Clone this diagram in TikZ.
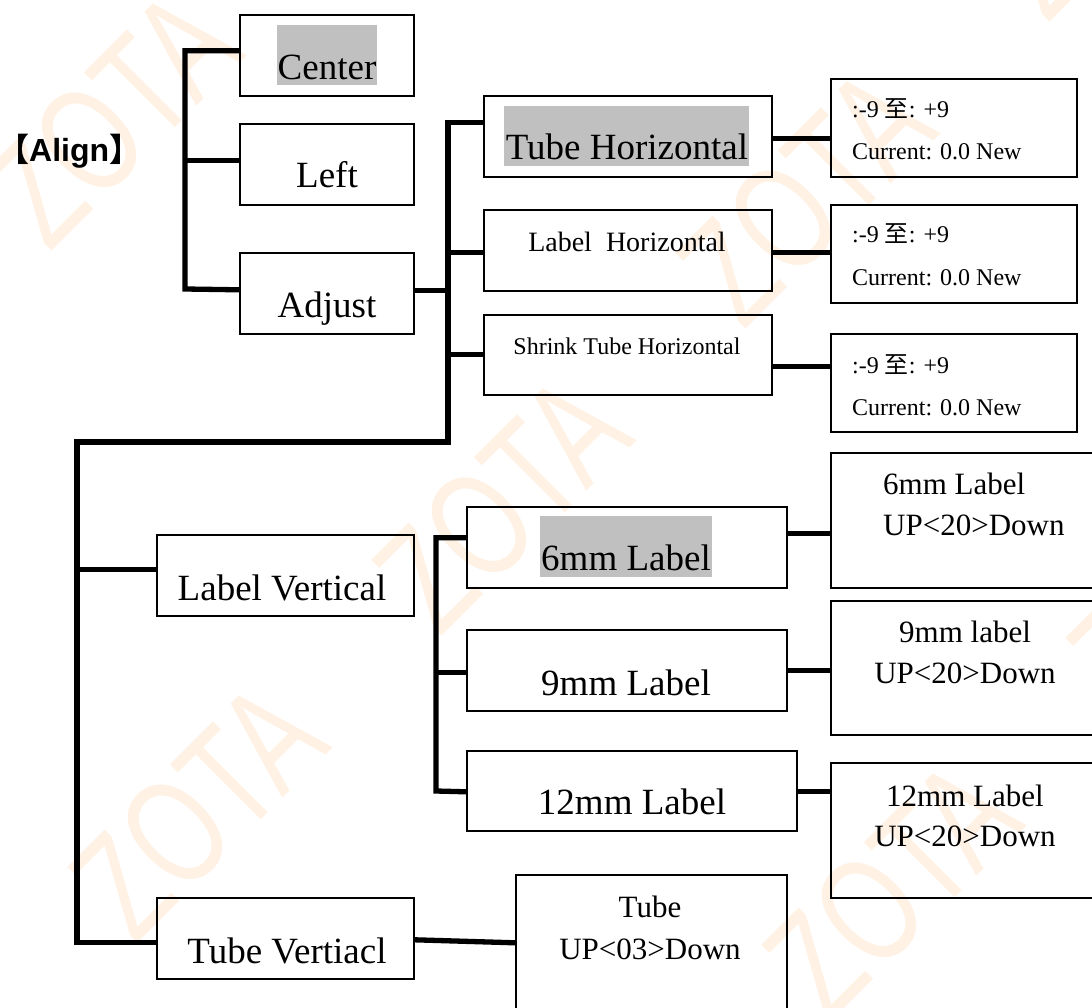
\documentclass[tikz,border=0pt]{standalone}
\usepackage{fontspec}
\setmainfont{Liberation Serif}
\newfontfamily\cjkfont{Noto Sans CJK SC}
\newfontfamily\alignfont{Liberation Sans}
\definecolor{hlgray}{RGB}{192,192,192}
\definecolor{wmark}{RGB}{255,241,228}
\begin{document}
\begin{tikzpicture}[x=1pt,y=-1pt,
  box/.style 2 args={draw=black, line width=1.6pt, inner sep=0pt, anchor=north west, minimum width=#1, minimum height=#2},
  hl/.style 2 args={fill=hlgray, inner sep=0pt, anchor=north west, minimum width=#1, minimum height=#2},
  conn/.style={line width=5.3pt, line join=miter},
  txt/.style={inner sep=0pt, anchor=base},
  ltxt/.style={inner sep=0pt, anchor=base west},
  big/.style={font=\fontsize{37}{40}\selectfont},
  midf/.style={font=\fontsize{31}{34}\selectfont},
  smlf/.style={font=\fontsize{24}{28}\selectfont},
  wm/.style={text=wmark, inner sep=0pt, font=\alignfont\fontsize{150}{150}\selectfont, rotate=45, xscale=0.72}
]
\useasboundingbox (0,0) rectangle (1092,1008);
\clip (0,0) rectangle (1092,1008);

% watermark
\foreach \i/\x/\y in {1/112/118, 2/502/503, 3/198/810, 4/806/196, 5/892/888, 6/1196/581, 7/1110/-111, 8/588/1195}
  \node[wm] (wm\i) at (\x,\y) {ZOTA};

% highlights
\node[hl={100pt}{60pt}] (hCenter) at (277,25) {};
\node[hl={245pt}{60pt}] (hTubeH) at (504,106) {};
\node[hl={172pt}{61pt}] (hSix) at (540,516) {};

% boxes
\node[box={174pt}{81pt}] (nCenter) at (239,14) {};
\node[box={174pt}{81pt}] (nLeft) at (239,123) {};
\node[box={174pt}{81pt}] (nAdjust) at (239,252) {};
\node[box={288pt}{81pt}] (nTubeH) at (483,95) {};
\node[box={288pt}{81pt}] (nLabelH) at (483,209) {};
\node[box={288pt}{80pt}] (nShrink) at (483,314) {};
\node[box={246pt}{98pt}] (nRa) at (830,78) {};
\node[box={246pt}{98pt}] (nRb) at (830,204) {};
\node[box={246pt}{98pt}] (nRc) at (830,333) {};
\node[box={257pt}{81pt}] (nLabelV) at (156,534) {};
\node[box={257pt}{81pt}] (nTubeV) at (156,897) {};
\node[box={320pt}{81pt}] (nSix) at (466,506) {};
\node[box={320pt}{81pt}] (nNine) at (466,629) {};
\node[box={330pt}{80pt}] (nTwelve) at (466,750) {};
\node[box={272pt}{135pt}] (nRsix) at (830,452) {};
\node[box={272pt}{134pt}] (nRnine) at (830,600) {};
\node[box={272pt}{135pt}] (nRtwelve) at (830,762) {};
\node[box={271pt}{156pt}] (nTube) at (515,874) {};

% title
\node[ltxt, font=\alignfont\bfseries\fontsize{32}{36}\selectfont] (tAlign) at (-3,162) {{\cjkfont 【}Align{\cjkfont 】}};

% texts
\node[txt,big] (tCenter) at (327,80) {Center};
\node[txt,big] (tLeft) at (327,188) {Left};
\node[txt,big] (tAdjust) at (327,317) {Adjust};
\node[txt,big] (tTubeH) at (627,160) {Tube Horizontal};
\node[txt,font=\fontsize{28}{32}\selectfont] (tLabelH) at (627,252) {Label~~Horizontal};
\node[txt,smlf] (tShrink) at (627,354) {Shrink Tube Horizontal};
\node[ltxt,smlf] (tRa1) at (852,118) {:-9 {\cjkfont 至}: +9};
\node[ltxt,smlf] (tRa2) at (852,160) {Current: 0.0 New};
\node[ltxt,smlf] (tRb1) at (852,243) {:-9 {\cjkfont 至}: +9};
\node[ltxt,smlf] (tRb2) at (852,286) {Current: 0.0 New};
\node[ltxt,smlf] (tRc1) at (852,373) {:-9 {\cjkfont 至}: +9};
\node[ltxt,smlf] (tRc2) at (852,415) {Current: 0.0 New};
\node[txt,big] (tLabelV) at (282,600) {Label Vertical};
\node[txt,big] (tTubeV) at (287,963) {Tube Vertiacl};
\node[txt,big] (tSix) at (626,570) {6mm Label};
\node[txt,big] (tNine) at (626,695) {9mm Label};
\node[txt,big] (tTwelve) at (632,814) {12mm Label};
\node[ltxt,midf] (tRsix1) at (883,494) {6mm Label};
\node[ltxt,midf] (tRsix2) at (883,535) {UP<20>Down};
\node[txt,midf] (tRnine1) at (965,642) {9mm label};
\node[txt,midf] (tRnine2) at (965,683) {UP<20>Down};
\node[txt,midf] (tRtwelve1) at (965,806) {12mm Label};
\node[txt,midf] (tRtwelve2) at (965,846) {UP<20>Down};
\node[txt,midf] (tTube1) at (650,917) {Tube};
\node[txt,midf] (tTube2) at (650,959) {UP<03>Down};

% connector points
\coordinate (pCenter) at ([yshift=4.5pt]nCenter.west);
\coordinate (pLeft) at ([yshift=3.5pt]nLeft.west);
\coordinate (pAdjustW) at ([yshift=3.5pt]nAdjust.west);
\coordinate (jBr) at (185,289);
\coordinate (pAdjustE) at ([yshift=2.5pt]nAdjust.east);
\coordinate (jA) at (448,442);
\coordinate (jB) at (77,442);
\coordinate (pTubeHW) at ([yshift=13.5pt]nTubeH.west);
\coordinate (pLabelHW) at ([yshift=-2.5pt]nLabelH.west);
\coordinate (pTubeVW) at ([yshift=-4.5pt]nTubeV.west);
\coordinate (pLabelVW) at ([yshift=5.5pt]nLabelV.west);
\coordinate (pSixW) at ([yshift=9.5pt]nSix.west);
\coordinate (pNineW) at ([yshift=-2.5pt]nNine.west);
\coordinate (pTwelveW) at ([yshift=-1pt]nTwelve.west);
\coordinate (jC) at (436,791);
\coordinate (pTubeHE) at ([yshift=-2.5pt]nTubeH.east);
\coordinate (pLabelHE) at ([yshift=-2.5pt]nLabelH.east);
\coordinate (pShrinkE) at ([yshift=-12pt]nShrink.east);
\coordinate (pSixE) at ([yshift=13.5pt]nSix.east);
\coordinate (pNineE) at (nNine.east);
\coordinate (pTwelveE) at ([yshift=-1pt]nTwelve.east);
\coordinate (pTubeVE) at ([yshift=-1.5pt]nTubeV.east);
\coordinate (pTubeW) at ([yshift=10pt]nTube.west);

% connectors
\draw[conn] (pCenter) -| (jBr) -- (pAdjustW);
\draw[conn] (pLeft) -- (jBr |- pLeft);
\draw[conn] (pTubeHW) -| (jA) -- (jB) |- (pTubeVW);
\draw[conn] (pAdjustE) -- (jA |- pAdjustE);
\draw[conn] (pLabelHW) -- (jA |- pLabelHW);
\draw[conn] (nShrink.west) -- (jA |- nShrink.west);
\draw[conn] (pLabelVW) -- (jB |- pLabelVW);
\draw[conn] (pSixW) -| (jC) -- (pTwelveW);
\draw[conn] (pNineW) -- (jC |- pNineW);
\draw[conn] (pTubeHE) -- (nRa.west |- pTubeHE);
\draw[conn] (pLabelHE) -- (nRb.west |- pLabelHE);
\draw[conn] (pShrinkE) -- (nRc.west |- pShrinkE);
\draw[conn] (pSixE) -- (nRsix.west |- pSixE);
\draw[conn] (pNineE) -- (nRnine.west |- pNineE);
\draw[conn] (pTwelveE) -- (nRtwelve.west |- pTwelveE);
\draw[conn] (pTubeVE) -- (pTubeW);
\end{tikzpicture}
\end{document}
